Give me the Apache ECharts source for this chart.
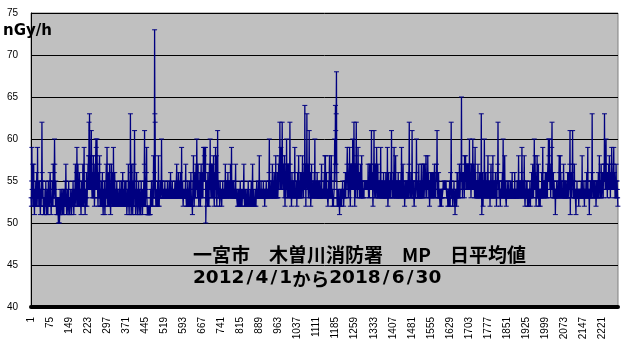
<!DOCTYPE html>
<html>
<head>
<meta charset="utf-8">
<script src="https://cdn.jsdelivr.net/npm/echarts@6/dist/echarts.min.js"></script>
<style>html,body{margin:0;padding:0;background:#fff}#c{width:623px;height:351px}</style>
</head>
<body>
<div id="c"></div>
<script>
// Daily mean dose rate (nGy/h), 2012/4/1 - 2018/6/30, one array per fiscal year (Apr-Mar)
const fy2012 = [
53,52,55,59,54,53,57,52,53,54,
57,53,52,51,53,54,52,53,55,52,
53,54,56,52,53,59,54,53,55,54,
52,53,54,55,53,52,51,53,54,52,
54,55,62,56,53,55,54,52,53,51,
52,53,51,52,54,53,52,55,53,52,
51,52,53,54,52,51,53,55,52,53,
54,52,53,55,56,54,53,52,51,53,
52,53,55,54,53,52,57,55,53,54,
56,60,57,54,53,52,55,53,52,51,
52,53,51,52,53,51,50,52,53,51,
50,51,52,54,53,52,51,53,52,54,
53,52,51,52,53,54,52,51,53,52,
54,53,52,55,53,57,54,52,51,53,
52,53,54,52,51,53,55,52,53,52,
51,52,53,52,54,53,52,51,52,53,
54,53,52,55,53,52,51,53,54,52,
53,55,57,54,53,52,56,54,59,55,
53,52,57,54,53,55,52,53,56,54,
52,53,54,52,51,53,55,53,52,54,
53,57,54,52,53,55,59,54,53,52,
51,53,54,52,53,56,54,52,53,55,
54,57,55,58,54,62,56,63,58,54,
56,55,58,54,61,57,54,53,56,55,
53,55,58,54,53,56,52,53,57,54,
55,58,60,59,54,56,60,57,55,53,
52,54,56,53,55,57,58,54,52,53,
54,52,53,55,54,52,53,56,53,52,
51,53,54,52,53,55,52,51,53,54,
52,55,57,53,54,59,55,53,52,54,
53,56,54,52,53,57,55,53,52,51,
53,54,57,55,53,52,54,56,53,52,
59,55,54,53,52,56,54,53,52,53,
54,52,53,55,53,52,54,53,52,53,
52,53,54,52,53,55,53,52,53,54,
53,52,55,53,52,54,56,53,52,53,
54,53,52,53,55
];
const fy2013 = [
53,52,54,53,55,52,53,51,52,53,
54,52,53,57,54,52,51,53,55,52,
54,63,56,53,51,52,54,57,52,53,
51,53,55,52,54,57,53,61,55,52,
53,51,52,54,53,56,52,53,51,52,
54,53,52,55,52,51,53,54,52,53,
52,51,53,55,52,53,54,52,51,53,
52,54,53,55,52,57,61,56,53,52,
54,53,55,56,59,53,52,51,51,51,
51,52,51,51,52,51,51,52,51,53,
54,52,53,55,53,52,54,53,52,55,
54,58,55,53,56,73,63,62,55,53,
52,53,53,54,52,53,53,55,53,52,
58,53,53,52,54,53,53,55,53,53,
53,55,60,54,53,53,55,53,54,53,
53,53,54,53,53,55,53,53,54,53,
53,53,54,53,53,55,53,53,53,54,
53,53,55,53,54,53,53,56,53,53,
54,53,53,53,55,53,53,54,53,53,
53,54,53,53,55,53,53,54,53,53,
53,57,54,53,53,55,53,53,56,54,
53,53,55,53,53,54,56,53,53,54,
59,54,53,53,55,53,52,53,54,53,
53,53,54,53,53,55,57,53,53,52,
53,54,52,53,55,54,52,53,54,52,
53,55,52,54,53,52,56,54,53,52,
53,52,51,53,55,54,58,55,53,52,
54,53,56,54,53,55,57,54,56,60,
56,54,53,55,57,54,53,52,55,54,
53,56,54,52,53,55,57,54,53,55,
54,56,55,53,57,59,56,55,58,59,
56,55,57,59,50,52,54,53,55,54,
53,52,56,54,53,55,52,53,57,54,
55,60,56,54,53,55,57,54,53,56,
57,54,53,55,58,54,53,52,56,54,
53,56,59,55,54,58,53,52,55,54,
61,56,54,53,55
];
const fy2014 = [
53,53,54,52,53,55,53,53,54,53,
53,52,54,53,53,55,53,53,54,53,
53,54,53,55,53,57,54,53,55,53,
54,53,55,53,54,56,53,53,55,54,
53,55,53,54,53,57,54,53,55,59,
54,53,53,55,54,53,53,55,53,53,
53,54,53,53,55,57,53,53,54,53,
53,53,52,53,54,53,52,53,53,54,
53,52,53,55,53,53,52,53,54,53,
52,53,53,54,53,53,55,57,53,53,
52,53,53,54,52,53,53,52,53,54,
53,53,52,53,55,53,52,53,53,52,
53,54,53,52,53,53,55,53,52,53,
53,57,53,52,53,54,53,52,53,53,
52,53,54,53,52,53,53,55,53,53,
53,54,53,53,55,53,54,58,53,53,
53,53,54,53,55,53,53,54,53,53,
54,53,53,55,53,53,54,53,52,53,
53,54,53,53,55,54,53,53,54,53,
53,54,53,55,53,56,60,55,53,54,
53,53,54,55,53,54,53,53,57,54,
53,55,54,53,53,56,54,53,55,53,
54,58,53,53,55,54,53,56,54,53,
53,55,57,54,56,58,55,62,57,54,
56,59,55,54,57,56,62,58,55,54,
56,54,57,53,55,58,54,52,55,53,
55,57,54,60,56,54,53,57,55,54,
53,55,57,54,53,56,62,57,54,53,
55,54,52,53,56,54,53,53,55,54,
53,55,54,53,56,59,55,53,54,53,
54,53,55,52,54,53,56,54,53,53,
58,54,53,55,53,54,53,56,54,53,
55,54,56,53,55,58,54,56,55,53,
56,55,57,54,64,57,55,56,52,55,
57,55,63,56,54,55,57,54,53,55,
56,61,55,54,53,56,54,52,53,55,
57,54,53,53,54
];
const fy2015 = [
53,55,54,53,54,53,56,55,60,54,
53,53,55,54,53,53,54,56,53,53,
54,53,55,53,53,54,53,55,53,53,
54,53,53,55,57,54,53,53,54,53,
53,54,53,55,54,56,53,58,54,58,
55,53,54,56,53,53,54,53,53,52,
53,55,54,53,56,58,54,53,55,53,
54,56,58,55,53,53,54,52,53,53,
52,53,53,54,56,60,55,57,64,61,
57,63,68,56,53,52,53,54,53,52,
53,53,54,52,51,53,53,52,54,53,
53,53,52,54,53,53,55,53,53,54,
52,53,54,53,55,53,54,56,53,55,
54,56,55,57,59,56,54,55,53,54,
56,57,55,59,54,53,52,55,57,56,
54,56,55,57,54,60,56,55,57,54,
62,57,55,52,54,57,55,53,58,62,
56,54,57,55,53,55,59,56,54,55,
54,56,53,55,54,57,53,55,53,54,
58,54,53,55,54,53,54,53,54,53,
55,54,54,55,54,54,55,54,55,54,
54,54,54,55,54,57,54,53,55,54,
53,57,55,54,57,55,56,54,61,56,
54,56,55,53,52,54,57,56,61,55,
54,53,55,57,54,53,55,54,59,56,
54,53,55,57,54,53,53,54,55,53,
54,53,55,56,59,54,53,55,54,53,
53,55,54,53,53,56,54,53,53,54,
55,53,53,54,56,53,54,53,55,53,
59,54,52,53,55,56,54,53,54,53,
55,54,53,56,54,55,61,56,54,53,
53,55,54,53,56,54,59,55,53,54,
53,55,58,54,53,55,54,53,53,55,
54,53,56,54,53,53,55,54,53,53,
54,55,53,56,55,59,54,53,55,54,
53,57,54,53,55,53,54,52,53,54,
55,53,53,54,53,55
];
const fy2016 = [
54,53,55,53,54,56,53,55,57,62,
55,54,53,53,55,54,56,53,54,55,
61,55,54,53,53,54,55,53,52,53,
54,53,55,53,54,56,55,60,56,54,
53,55,54,53,54,53,57,54,53,53,
54,53,55,54,53,53,57,54,53,55,
54,53,55,57,53,55,57,54,57,55,
53,56,54,55,58,56,54,53,55,56,
54,58,55,54,56,53,55,54,52,53,
55,54,56,53,55,54,53,56,54,55,
53,54,56,55,53,54,55,57,54,53,
55,54,53,56,55,57,55,61,56,54,
53,55,54,56,53,53,54,53,53,52,
53,54,53,53,52,53,54,53,53,53,
54,55,54,54,54,54,55,54,54,54,
54,54,55,54,54,53,54,54,53,52,
53,53,54,52,53,53,55,53,52,54,
56,54,62,55,53,53,54,53,52,53,
54,53,53,55,53,52,53,51,53,54,
53,53,54,52,53,56,54,56,53,53,
54,53,55,54,57,55,53,54,56,55,
55,57,65,56,54,55,53,56,55,54,
56,54,55,53,58,55,56,57,58,54,
55,54,57,55,57,54,56,55,54,57,
55,56,54,60,55,57,54,56,55,53,
55,57,54,56,55,54,60,56,55,57,
54,56,55,53,55,59,54,56,53,55,
54,53,55,53,54,53,57,54,55,53,
54,53,55,56,53,54,56,55,53,63,
55,51,53,54,56,53,52,55,54,53,
55,60,56,54,53,55,53,56,54,53,
55,53,54,53,56,58,54,53,55,53,
54,53,55,52,54,53,56,57,54,53,
53,54,55,53,58,54,53,53,55,54,
53,55,54,53,56,54,53,55,52,54,
53,56,55,57,62,56,54,55,53,54,
55,53,54,52,54
];
const fy2017 = [
53,54,53,55,53,54,56,53,55,60,
55,53,54,53,54,58,54,53,55,53,
53,52,53,54,53,55,53,53,54,53,
53,55,53,54,53,53,54,53,55,53,
54,53,53,54,56,53,53,54,53,53,
54,53,53,54,56,53,53,54,53,53,
53,54,53,55,53,54,53,53,55,58,
54,53,55,53,54,53,53,55,54,53,
54,56,59,55,53,54,53,55,53,54,
55,58,54,53,52,53,54,53,55,53,
54,53,55,53,52,54,53,53,54,52,
53,54,53,55,53,52,54,53,53,54,
56,54,53,55,57,54,56,53,55,54,
60,55,54,58,55,56,54,52,53,55,
54,58,55,53,53,54,57,53,52,54,
53,54,53,52,54,53,53,54,53,56,
53,54,56,59,54,53,55,54,53,55,
54,53,55,56,54,53,55,53,56,54,
55,53,56,57,55,60,56,58,55,60,
56,54,57,55,53,56,55,54,59,62,
56,54,55,53,56,54,53,55,54,53,
53,54,51,53,54,53,53,55,54,53,
53,54,53,55,53,54,56,58,54,53,
55,58,54,56,53,54,53,55,53,54,
53,54,53,55,57,54,53,53,54,55,
53,54,53,53,55,54,53,53,54,53,
56,54,53,53,54,56,54,55,57,61,
51,54,56,55,53,54,56,55,57,61,
55,53,54,53,55,54,57,53,53,54,
53,53,51,53,54,53,55,53,54,53,
53,54,53,52,54,53,53,54,53,53,
54,53,53,55,54,53,58,54,53,53,
54,53,53,55,53,52,54,53,53,54,
53,55,54,53,56,54,53,55,59,54,
53,53,54,53,51,53,54,53,55,53,
54,55,53,56,55,63,56,54,53,55,
54,53,55,53,54
];
const fy2018 = [
53,55,54,53,54,52,53,55,54,53,
54,53,55,54,56,53,55,54,58,55,
54,53,55,54,53,57,55,53,54,55,
56,54,55,53,56,55,57,55,63,57,
55,54,56,57,60,55,54,56,55,53,
55,56,54,55,57,55,54,58,56,54,
55,53,56,55,54,57,59,55,54,56,
55,54,56,57,59,55,54,56,55,53,
55,54,53,57,55,54,53,55,54,53,
52
];

const yMin = 40, yMax = 75, yStep = 5;
const xLabelStep = 74;           // category labels 1, 75, 149, ...
const unitLabel = 'nGy/h';
const titleLine1 = '一宮市　木曽川消防署　MP　日平均値';
const titleLine2 = '{d|2012}{s|/}{d|4}{s|/}{d|1}{k|から}{d|2018}{s|/}{d|6}{s|/}{d|30}';

const values = [].concat(fy2012, fy2013, fy2014, fy2015, fy2016, fy2017, fy2018);
const categories = values.map((v, i) => String(i + 1));

const chart = echarts.init(document.getElementById('c'), null, {renderer: 'canvas', width: 623, height: 351});
chart.setOption({
  animation: false,
  backgroundColor: '#ffffff',
  grid: {left: 31, right: 5, top: 13, bottom: 44, show: true,
         backgroundColor: '#C0C0C0', borderColor: '#808080', borderWidth: 1},
  xAxis: {
    type: 'category', data: categories, boundaryGap: true,
    axisLine: {show: true, onZero: false, lineStyle: {color: '#000', width: 4}},
    axisTick: {show: false},
    axisLabel: {interval: xLabelStep - 1, rotate: 90, fontSize: 10, color: '#000',
                fontFamily: '"Liberation Sans", Arial, sans-serif', margin: 10},
    splitLine: {show: false}
  },
  yAxis: {
    type: 'value', min: yMin, max: yMax, interval: yStep,
    axisLine: {show: true, lineStyle: {color: '#000', width: 1}},
    axisTick: {show: false},
    axisLabel: {fontSize: 10, color: '#000', margin: 13,
                fontFamily: '"Liberation Sans", Arial, sans-serif'},
    splitLine: {show: true, lineStyle: {color: '#000', width: 1}}
  },
  series: [{
    type: 'line', data: values,
    symbol: 'rect', symbolSize: [5, 1], showSymbol: true, showAllSymbol: true,
    lineStyle: {color: '#000080', width: 1.3},
    itemStyle: {color: '#000080'},
    emphasis: {disabled: true}
  }],
  graphic: [
    {type: 'text', x: 3, y: 31, z: 100,
     style: {text: unitLabel, fill: '#000', fontSize: 15, fontWeight: 'bold',
             fontFamily: '"DejaVu Sans", sans-serif', verticalAlign: 'middle'}},
    {type: 'text', x: 193, y: 255, z: 100,
     style: {text: titleLine1, fill: '#000', fontSize: 19, fontWeight: 'bold',
             fontFamily: '"Noto Sans CJK JP", sans-serif', verticalAlign: 'middle'}},
    {type: 'text', x: 193, y: 278.5, z: 100,
     style: {text: titleLine2, fill: '#000', verticalAlign: 'middle',
             rich: {
               d: {fontSize: 18.5, fontWeight: 'bold', fontFamily: '"DejaVu Sans", sans-serif', fill: '#000'},
               s: {fontSize: 18.5, fontWeight: 'bold', fontFamily: '"DejaVu Sans", sans-serif', fill: '#000', width: 11, align: 'center'},
               k: {fontSize: 18.5, fontWeight: 'bold', fontFamily: '"Noto Sans CJK JP", sans-serif', fill: '#000'}
             }}}
  ]
});
</script>
</body>
</html>
